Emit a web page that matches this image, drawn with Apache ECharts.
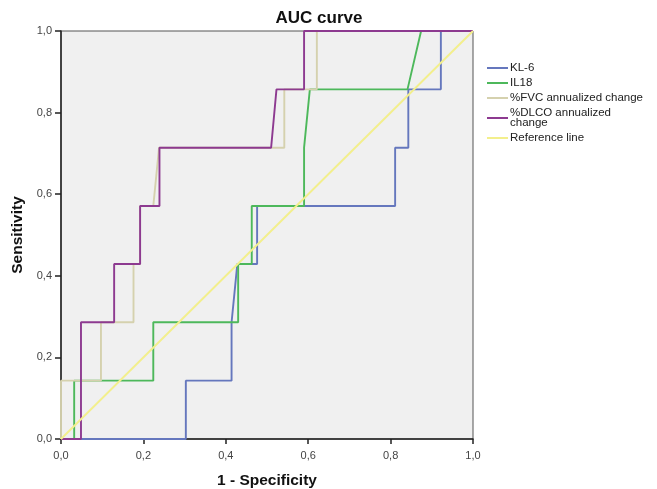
<!DOCTYPE html>
<html><head><meta charset="utf-8">
<script src="https://cdn.jsdelivr.net/npm/echarts@6/dist/echarts.min.js"></script>
<style>html,body{margin:0;padding:0;background:#fff}#c{width:657px;height:489px}</style>
</head><body><div id="c"></div>
<script>
var seriesNames = ['KL-6', 'IL18', '%FVC annualized change', '%DLCO annualized\nchange', 'Reference line'];
var colors = ['#6577bd', '#4db85b', '#d5d1ae', '#8d3a90', '#f3ef8c'];
var kl6 = [[0,0],[0.303,0],[0.303,0.143],[0.414,0.143],[0.414,0.286],[0.428,0.429],[0.476,0.429],[0.476,0.571],[0.811,0.571],[0.811,0.714],[0.843,0.714],[0.843,0.857],[0.922,0.857],[0.922,1],[1,1]];
var il18 = [[0,0],[0.032,0],[0.032,0.143],[0.224,0.143],[0.224,0.286],[0.430,0.286],[0.430,0.429],[0.463,0.429],[0.463,0.571],[0.590,0.571],[0.590,0.714],[0.604,0.857],[0.841,0.857],[0.874,1],[1,1]];
var fvc = [[0,0],[0,0.143],[0.097,0.143],[0.097,0.286],[0.176,0.286],[0.176,0.429],[0.192,0.429],[0.192,0.571],[0.224,0.571],[0.238,0.714],[0.542,0.714],[0.542,0.857],[0.621,0.857],[0.621,1],[1,1]];
var dlco = [[0,0],[0.0485,0],[0.0485,0.286],[0.129,0.286],[0.129,0.429],[0.192,0.429],[0.192,0.571],[0.239,0.571],[0.239,0.714],[0.510,0.714],[0.523,0.857],[0.590,0.857],[0.590,1],[1,1]];
var refLine = [[0,0],[1,1]];
var tickValues = [0, 0.2, 0.4, 0.6, 0.8, 1.0];

var font = 'Arial, "Liberation Sans", sans-serif';
function fmt(v){ return v.toFixed(1).replace('.', ','); }
var dataSets = [kl6, il18, fvc, dlco, refLine];
var chart = echarts.init(document.getElementById('c'));
chart.setOption({
  animation: false,
  textStyle: {fontFamily: font},
  title: {text: 'AUC curve', left: 314, top: 5, textAlign: 'center',
    textStyle: {fontSize: 17, fontWeight: 'bold', color: '#111', fontFamily: font}},
  grid: {left: 61, right: 184, top: 31, bottom: 50, outerBoundsMode: 'none', containLabel: false,
    show: true, backgroundColor: '#f0f0f0', borderColor: '#555', borderWidth: 1},
  legend: {orient: 'vertical', left: 487, top: 62, padding: 0, itemWidth: 21, itemHeight: 2, itemGap: 3, icon: 'rect',
    data: seriesNames,
    textStyle: {fontSize: 11.5, color: '#222', lineHeight: 10, padding: [0,0,0,-3], fontFamily: font}},
  xAxis: {type: 'value', min: 0, max: 1, interval: 0.2,
    name: '1 - Specificity', nameLocation: 'middle', nameGap: 34,
    nameTextStyle: {fontSize: 15.5, fontWeight: 'bold', color: '#111'},
    axisLine: {lineStyle: {color: '#222', width: 1.5}},
    axisTick: {show: true, length: 5, lineStyle: {color: '#222', width: 1.5}},
    axisLabel: {formatter: fmt, fontSize: 11, color: '#444', margin: 11},
    splitLine: {show: false}},
  yAxis: {type: 'value', min: 0, max: 1, interval: 0.2,
    name: 'Sensitivity', nameLocation: 'middle', nameGap: 28,
    nameTextStyle: {fontSize: 15.5, fontWeight: 'bold', color: '#111'},
    axisLine: {show: true, lineStyle: {color: '#222', width: 1.5}},
    axisTick: {show: true, length: 6, lineStyle: {color: '#222', width: 1.5}},
    axisLabel: {formatter: fmt, fontSize: 11, color: '#444', margin: 9},
    splitLine: {show: false}},
  series: seriesNames.map(function(n, i){
    return {name: n, type: 'line', data: dataSets[i], showSymbol: false, symbol: 'none',
      lineStyle: {color: colors[i], width: 1.9}, itemStyle: {color: colors[i]}, z: 2 + i};
  })
});
</script></body></html>
